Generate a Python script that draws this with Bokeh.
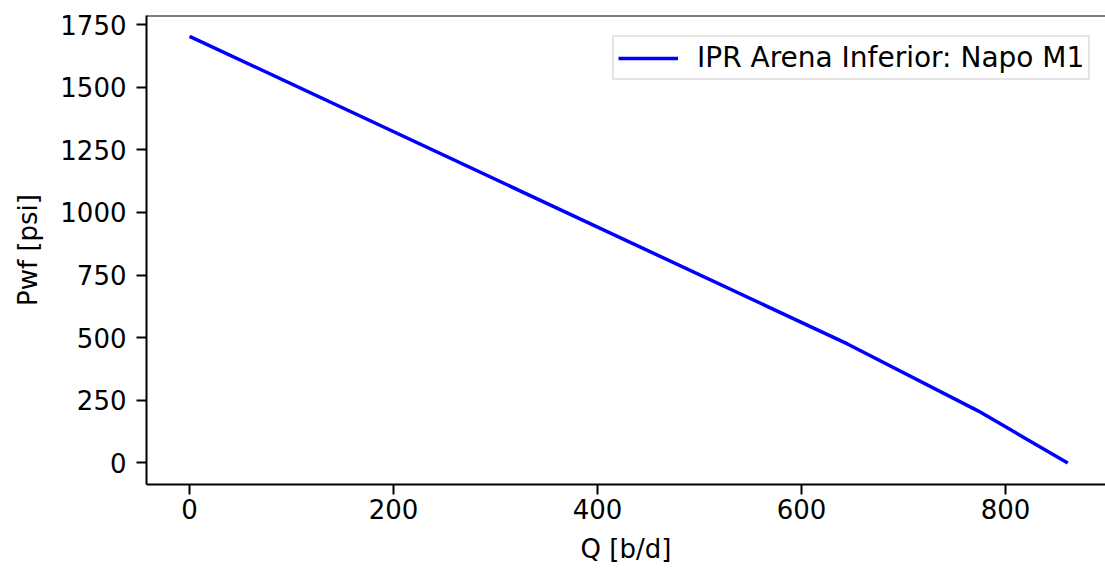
from bokeh.plotting import figure
from bokeh.models import Range1d, FixedTicker, Span
from bokeh.embed import file_html
from bokeh.resources import INLINE

# Data
q_bd = [0, 645, 773, 861]
pwf_psi = [1703, 475, 208, 0]
x_ticks = [0, 200, 400, 600, 800]
y_ticks = [0, 250, 500, 750, 1000, 1250, 1500, 1750]
series_label = "IPR Arena Inferior: Napo M1"

FONT = "DejaVu Sans"
FS = "26px"

p = figure(width=1105, height=569, output_backend="svg", toolbar_location=None,
           x_range=Range1d(-42.2, 898), y_range=Range1d(-86, 1786),
           min_border_left=146, min_border_right=0, min_border_top=15, min_border_bottom=85)

p.line(q_bd, pwf_psi, line_color="#0000ff", line_width=3.5, legend_label=series_label)

p.grid.visible = False
p.outline_line_color = None
p.background_fill_color = "white"
p.border_fill_color = "white"

for ax in (p.xaxis[0], p.yaxis[0]):
    ax.axis_line_color = "black"
    ax.axis_line_width = 2
    ax.major_tick_line_color = "black"
    ax.major_tick_line_width = 2
    ax.major_tick_out = 10
    ax.major_tick_in = 0
    ax.minor_tick_line_color = None
    ax.major_label_text_font = FONT
    ax.major_label_text_font_size = FS
    ax.major_label_text_color = "black"
    ax.axis_label_text_font = FONT
    ax.axis_label_text_font_size = FS
    ax.axis_label_text_font_style = "normal"
    ax.axis_label_text_color = "black"

p.xaxis.ticker = FixedTicker(ticks=x_ticks)
p.yaxis.ticker = FixedTicker(ticks=y_ticks)
p.xaxis.axis_label = "Q [b/d]"
p.yaxis.axis_label = "Pwf [psi]"
p.xaxis.major_label_standoff = 4
p.xaxis.axis_label_standoff = 12
p.yaxis.major_label_standoff = 10
p.yaxis.axis_label_standoff = 14

top_spine = Span(location=1786, dimension="width", line_color="black", line_width=2)
p.add_layout(top_spine)

lg = p.legend[0]
lg.location = (466, 404)
lg.label_text_font = FONT
lg.label_text_font_size = "28px"
lg.label_text_color = "black"
lg.glyph_width = 60
lg.glyph_height = 32
lg.label_standoff = 19
lg.padding = 4
lg.margin = 0
lg.border_line_color = "#cccccc"
lg.border_line_width = 2
lg.background_fill_alpha = 0.8

open("out.html", "w").write(file_html(p, INLINE))
